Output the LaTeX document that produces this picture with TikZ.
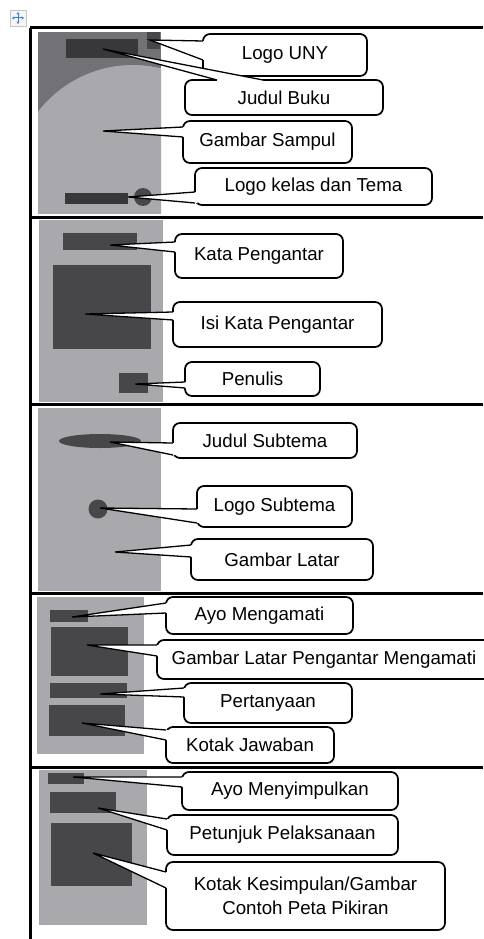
\documentclass[tikz,border=0pt]{standalone}
\usepackage{fontspec}
\setmainfont{Liberation Sans}
\usetikzlibrary{calc,arrows.meta}
\definecolor{pagegray}{HTML}{A9A9AD}
\definecolor{topgray}{HTML}{727276}
\definecolor{darkbox}{HTML}{47474A}
\definecolor{darkerbox}{HTML}{38383A}
\definecolor{iconblue}{HTML}{3A7BD5}
\tikzset{
  frameline/.style={line width=3pt},
  callbox/.style={draw, line width=1.7pt, rounded corners=7pt, fill=white,
    inner sep=0pt, outer sep=0pt, font=\fontsize{18.7}{24}\selectfont, align=center},
  wedgeline/.style={line width=1.3pt, line join=miter},
  pagefill/.style={fill=pagegray},
  elem/.style={fill=darkbox},
  iconarrow/.style={{Stealth[length=2.6pt,width=3pt]}-{Stealth[length=2.6pt,width=3pt]}, draw=iconblue, line width=1pt},
}
\newcommand\mkwedge[4]{%
  \fill[white] (#1) -- (#2) -- ($(#2)+(#4)$) -- ($(#3)+(#4)$) -- (#3) -- cycle;
  \draw[wedgeline] (#2) -- (#1) -- (#3);}
\begin{document}
\begin{tikzpicture}[x=1pt,y=-1pt]
\useasboundingbox (0,0) rectangle (483,939);
% move handle icon
\draw[draw=gray!45, fill=gray!8] (10,10) rectangle (26,26);
\draw[iconarrow] (12,18) -- (24,18);
\draw[iconarrow] (18,12) -- (18,24);
% frame
\draw[frameline] (30,939) -- (30,28);
\foreach \yy in {28,217,404,593,767} \draw[frameline] (30,\yy) -- (483,\yy);

% ---------- section 1 ----------
\fill[topgray] (38,32) rectangle (161,213);
\begin{scope}
  \clip (38,32) rectangle (161,213);
  \fill[pagegray] (133,185) circle[radius=120pt];
\end{scope}
\fill[darkerbox] (66,39) rectangle (138,58);
\fill[darkbox] (147,32) rectangle (160,49);
\fill[darkerbox] (65,193) rectangle (128,204);
\fill[darkbox] (143,197) circle[radius=9pt];

% ---------- section 2 ----------
\fill[pagegray] (39,220) rectangle (163,402);
\fill[elem] (63,233) rectangle (137,250);
\fill[elem] (53,265) rectangle (151,349);
\fill[elem] (119,373) rectangle (148,393);

% ---------- section 3 ----------
\fill[pagegray] (38,408) rectangle (161,591);
\fill[elem] (100,441) ellipse[x radius=41pt, y radius=7pt];
\fill[elem] (98,509) circle[radius=9.5pt];

% ---------- section 4 ----------
\fill[pagegray] (37,597) rectangle (144,754);
\fill[elem] (50,610) rectangle (88,622);
\fill[elem] (51,627) rectangle (128,676);
\fill[elem] (50,683) rectangle (127,698);
\fill[elem] (49,705) rectangle (125,736);

% ---------- section 5 ----------
\fill[pagegray] (39,770) rectangle (147,925);
\fill[elem] (48,773) rectangle (84,784);
\fill[elem] (50,792) rectangle (116,813);
\fill[elem] (51,823) rectangle (132,886);

% ---------- callout boxes ----------
\node[callbox, minimum width=164pt, minimum height=42pt] (n1) at (285,55) {Logo UNY};
\node[callbox, minimum width=198pt, minimum height=35pt] (n2) at (284,97.5) {Judul Buku};
\node[callbox, minimum width=169pt, minimum height=42pt] (n3) at (267.5,142) {Gambar Sampul};
\node[callbox, minimum width=237pt, minimum height=37pt] (n4) at (313.5,186.5) {Logo kelas dan Tema};
\node[callbox, minimum width=168pt, minimum height=44pt] (n5) at (259,256) {Kata Pengantar};
\node[callbox, minimum width=209pt, minimum height=45pt] (n6) at (277.5,324.5) {Isi Kata Pengantar};
\node[callbox, minimum width=135pt, minimum height=34pt] (n7) at (252.5,379) {Penulis};
\node[callbox, minimum width=184pt, minimum height=35pt] (n8) at (265,440.5) {Judul Subtema};
\node[callbox, minimum width=155pt, minimum height=41pt] (n9) at (274.5,506.5) {Logo Subtema};
\node[callbox, minimum width=182pt, minimum height=41pt] (n10) at (282,559.5) {Gambar Latar};
\node[callbox, minimum width=187pt, minimum height=37pt] (n11) at (259.5,615.5) {Ayo Mengamati};
\node[callbox, minimum width=334pt, minimum height=39pt] (n12) at (324,659.5) {Gambar Latar Pengantar Mengamati};
\node[callbox, minimum width=168pt, minimum height=40pt] (n13) at (268,703) {Pertanyaan};
\node[callbox, minimum width=168pt, minimum height=36pt] (n14) at (250,745) {Kotak Jawaban};
\node[callbox, minimum width=216pt, minimum height=38pt] (n15) at (290,791) {Ayo Menyimpulkan};
\node[callbox, minimum width=231pt, minimum height=40pt] (n16) at (282.5,835) {Petunjuk Pelaksanaan};
\node[callbox, minimum width=279pt, minimum height=68pt] (n17) at (305.5,896) {Kotak Kesimpulan/Gambar\\Contoh Peta Pikiran};

% ---------- tips ----------
\coordinate (t1) at (150,40);
\coordinate (t2) at (103,49);
\coordinate (t3) at (103,131);
\coordinate (t4) at (128,197);
\coordinate (t5) at (110,245);
\coordinate (t6) at (85,314);
\coordinate (t7) at (135,384);
\coordinate (t8) at (110,442);
\coordinate (t9) at (100,508);
\coordinate (t10) at (115,552);
\coordinate (t11) at (72,617);
\coordinate (t12) at (87,645);
\coordinate (t13) at (100,694);
\coordinate (t14) at (82,723);
\coordinate (t15) at (73,777);
\coordinate (t16) at (98,808);
\coordinate (t17) at (93,853);

% ---------- wedges ----------
\mkwedge{t1}{n1.west |- 0,41}{n1.west |- 0,60}{2.5,0}
\mkwedge{t2}{217,0 |- n2.north}{263,0 |- n2.north}{0,2.5}
\mkwedge{t3}{n3.west |- 0,127}{n3.west |- 0,137}{2.5,0}
\mkwedge{t4}{n4.west |- 0,192}{n4.west |- 0,203}{2.5,0}
\mkwedge{t5}{n5.west |- 0,242}{n5.west |- 0,252}{2.5,0}
\mkwedge{t6}{n6.west |- 0,312}{n6.west |- 0,320}{2.5,0}
\mkwedge{t7}{n7.west |- 0,382}{n7.west |- 0,388}{2.5,0}
\mkwedge{t8}{n8.west |- 0,443}{n8.west |- 0,455}{2.5,0}
\mkwedge{t9}{n9.west |- 0,509}{n9.west |- 0,523}{2.5,0}
\mkwedge{t10}{n10.west |- 0,545}{n10.west |- 0,557}{2.5,0}
\mkwedge{t11}{n11.west |- 0,603}{n11.west |- 0,613}{2.5,0}
\mkwedge{t12}{n12.west |- 0,645}{n12.west |- 0,656}{2.5,0}
\mkwedge{t13}{n13.west |- 0,688}{n13.west |- 0,697}{2.5,0}
\mkwedge{t14}{n14.west |- 0,730}{n14.west |- 0,740}{2.5,0}
\mkwedge{t15}{n15.west |- 0,777}{n15.west |- 0,787}{2.5,0}
\mkwedge{t16}{n16.west |- 0,819}{n16.west |- 0,830}{2.5,0}
\mkwedge{t17}{n17.west |- 0,872}{n17.west |- 0,888}{2.5,0}
\end{tikzpicture}
\end{document}
